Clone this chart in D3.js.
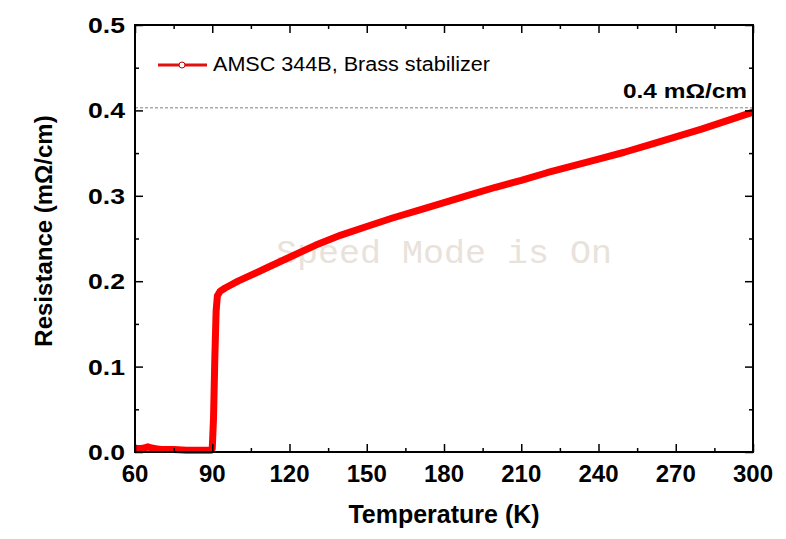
<!DOCTYPE html>
<html>
<head>
<meta charset="utf-8">
<script src="https://cdn.jsdelivr.net/npm/d3@7"></script>
<style>
  html, body { margin: 0; padding: 0; background: #fff; }
  svg { display: block; }
  text { font-family: "Liberation Sans", Arial, sans-serif; }
</style>
</head>
<body>
<svg id="chart" width="786" height="539"></svg>
<script>
// ---- data ----
const temperature = [60, 62, 64, 65, 66, 68, 70, 75, 80, 85, 88, 89.5, 90, 90.5, 91, 91.5, 92, 93, 95, 100, 110, 120, 130, 140, 150, 160, 170, 180, 190, 200, 210, 220, 230, 240, 250, 260, 270, 280, 290, 300];
const resistance  = [0.004, 0.004, 0.005, 0.006, 0.005, 0.004, 0.003, 0.003, 0.002, 0.002, 0.002, 0.002, 0.004, 0.04, 0.11, 0.165, 0.183, 0.188, 0.192, 0.200, 0.214, 0.228, 0.242, 0.254, 0.264, 0.274, 0.283, 0.292, 0.301, 0.310, 0.318, 0.327, 0.335, 0.343, 0.351, 0.360, 0.369, 0.378, 0.388, 0.398];
const xTicks = [60, 90, 120, 150, 180, 210, 240, 270, 300];
const xMinorTicks = [75, 105, 135, 165, 195, 225, 255, 285];
const yTicks = [0.0, 0.1, 0.2, 0.3, 0.4, 0.5];
const yMinorTicks = [0.05, 0.15, 0.25, 0.35, 0.45];
const refLevel = 0.403;
const seriesName = "AMSC 344B, Brass stabilizer";
const refLabel = "0.4 m\u03A9/cm";
const xTitle = "Temperature (K)";
const yTitle = "Resistance (m\u03A9/cm)";
const watermark = "Speed Mode is On";

// ---- layout ----
const svg = d3.select("#chart");
const L = 135, R = 753, T = 25, B = 452;
const x = d3.scaleLinear().domain([60, 300]).range([L, R]);
const y = d3.scaleLinear().domain([0, 0.5]).range([B, T]);

// watermark
svg.append("text")
  .attr("x", 276).attr("y", 263)
  .attr("textLength", 336).attr("lengthAdjust", "spacingAndGlyphs")
  .style("font-family", "'Liberation Mono', 'Courier New', monospace")
  .style("font-size", "33px")
  .attr("fill", "#e9e2db")
  .text(watermark);

// reference dashed line
svg.append("line")
  .attr("x1", L).attr("x2", R)
  .attr("y1", y(refLevel)).attr("y2", y(refLevel))
  .attr("stroke", "#808080").attr("stroke-width", 1)
  .attr("stroke-dasharray", "3,2");

// data line
const pts = temperature.map((t, i) => [t, resistance[i]]);
svg.append("path")
  .datum(pts)
  .attr("d", d3.line().x(d => x(d[0])).y(d => y(d[1])))
  .attr("fill", "none")
  .attr("stroke", "#ff0000")
  .attr("stroke-width", 7)
  .attr("stroke-linejoin", "round")
  .attr("stroke-linecap", "butt");

// axes (ticks inward, mirrored)
function drawAxis(axisGen, transform) {
  const g = svg.append("g").attr("transform", transform).call(axisGen);
  g.selectAll(".domain").remove();
  g.selectAll("text").remove();
  g.selectAll("line").attr("stroke", "#000").attr("stroke-width", 1.5);
  return g;
}
drawAxis(d3.axisTop(x).tickValues(xTicks).tickSize(8).tickFormat(""), `translate(0,${B})`);
drawAxis(d3.axisTop(x).tickValues(xMinorTicks).tickSize(4).tickFormat(""), `translate(0,${B})`);
drawAxis(d3.axisBottom(x).tickValues(xTicks).tickSize(8).tickFormat(""), `translate(0,${T})`);
drawAxis(d3.axisBottom(x).tickValues(xMinorTicks).tickSize(4).tickFormat(""), `translate(0,${T})`);
drawAxis(d3.axisRight(y).tickValues(yTicks).tickSize(8).tickFormat(""), `translate(${L},0)`);
drawAxis(d3.axisRight(y).tickValues(yMinorTicks).tickSize(4).tickFormat(""), `translate(${L},0)`);
drawAxis(d3.axisLeft(y).tickValues(yTicks).tickSize(8).tickFormat(""), `translate(${R},0)`);
drawAxis(d3.axisLeft(y).tickValues(yMinorTicks).tickSize(4).tickFormat(""), `translate(${R},0)`);

// frame
svg.append("rect")
  .attr("x", L).attr("y", T).attr("width", R - L).attr("height", B - T)
  .attr("fill", "none").attr("stroke", "#000").attr("stroke-width", 2);

// x tick labels
svg.append("g").selectAll("text").data(xTicks).join("text")
  .attr("x", d => x(d)).attr("y", 482)
  .attr("text-anchor", "middle")
  .style("font-size", "24px").style("font-weight", "bold")
  .attr("fill", "#000")
  .text(d => d);

// y tick labels
svg.append("g").selectAll("text").data(yTicks).join("text")
  .attr("x", 125).attr("y", d => y(d) + 8)
  .attr("text-anchor", "end")
  .attr("textLength", 37).attr("lengthAdjust", "spacingAndGlyphs")
  .style("font-size", "22px").style("font-weight", "bold")
  .attr("fill", "#000")
  .text(d => d.toFixed(1));

// axis titles
svg.append("text")
  .attr("x", (L + R) / 2).attr("y", 523)
  .attr("text-anchor", "middle")
  .style("font-size", "25px").style("font-weight", "bold")
  .text(xTitle);
svg.append("text")
  .attr("transform", "translate(52,231) rotate(-90)")
  .attr("text-anchor", "middle")
  .style("font-size", "24px").style("font-weight", "bold")
  .text(yTitle);

// reference label
svg.append("text")
  .attr("x", 747).attr("y", 98)
  .attr("text-anchor", "end")
  .attr("textLength", 124).attr("lengthAdjust", "spacingAndGlyphs")
  .style("font-size", "21px").style("font-weight", "bold")
  .text(refLabel);

// legend
svg.append("line")
  .attr("x1", 158).attr("x2", 207).attr("y1", 65).attr("y2", 65)
  .attr("stroke", "#e01010").attr("stroke-width", 3);
svg.append("circle")
  .attr("cx", 182).attr("cy", 65).attr("r", 3)
  .attr("fill", "#fff").attr("stroke", "#c00000").attr("stroke-width", 1);
svg.append("text")
  .attr("x", 213).attr("y", 71)
  .attr("textLength", 277).attr("lengthAdjust", "spacingAndGlyphs")
  .style("font-size", "20px")
  .text(seriesName);
</script>
</body>
</html>
